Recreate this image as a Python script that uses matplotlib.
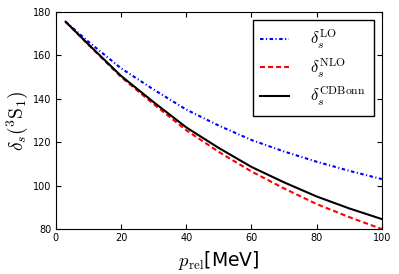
import matplotlib
matplotlib.use('Agg')
import matplotlib.pyplot as plt

plt.rcParams['mathtext.fontset'] = 'cm'
plt.rcParams['lines.scale_dashes'] = False

# momentum points (MeV)
p_rel = [3, 10, 20, 30, 40, 50, 60, 70, 80, 90, 100]

# phase shifts (degrees)
delta_lo = [175.4, 166.2, 154.0, 144.2, 135.0, 127.6, 121.0, 115.7, 111.0, 106.8, 103.0]
delta_nlo = [175.4, 164.8, 150.0, 137.5, 125.5, 115.5, 106.5, 98.7, 91.5, 85.5, 80.0]
delta_cdb = [175.4, 165.0, 150.5, 138.4, 126.8, 117.3, 108.6, 101.5, 95.0, 89.5, 84.6]

fig = plt.figure(figsize=(3.99, 2.74), dpi=100)
ax = fig.add_axes([0.140, 0.164, 0.817, 0.793])

ax.plot(p_rel, delta_lo, 'b-.', lw=1.5, dashes=(2.5, 1.8, 0.8, 1.8), label=r'$\delta_s^{\rm LO}$')
ax.plot(p_rel, delta_nlo, 'r--', lw=1.5, dashes=(3.6, 2.2), label=r'$\delta_s^{\rm NLO}$')
ax.plot(p_rel, delta_cdb, 'k-', lw=1.5, label=r'$\delta_s^{\rm CDBonn}$')

ax.set_xlim(0, 100)
ax.set_ylim(80, 180)
ax.set_xticks([0, 20, 40, 60, 80, 100])
ax.set_yticks([80, 100, 120, 140, 160, 180])
ax.tick_params(direction='in', top=True, right=True, length=3.5, labelsize=7, pad=3)

ax.set_xlabel(r'$p_{\rm rel}$[MeV]', fontsize=13.5, labelpad=4)
ax.set_ylabel(r'$\delta_s(^3{\rm S}_1)$', fontsize=14, labelpad=2)

leg = ax.legend(loc='upper right', fontsize=12, fancybox=False, framealpha=1,
                edgecolor='k', handlelength=1.7, handletextpad=1.3, borderpad=0.45,
                borderaxespad=0.5, labelspacing=0.35)
leg.get_frame().set_linewidth(1.0)

fig.savefig('out.png', dpi=100)
